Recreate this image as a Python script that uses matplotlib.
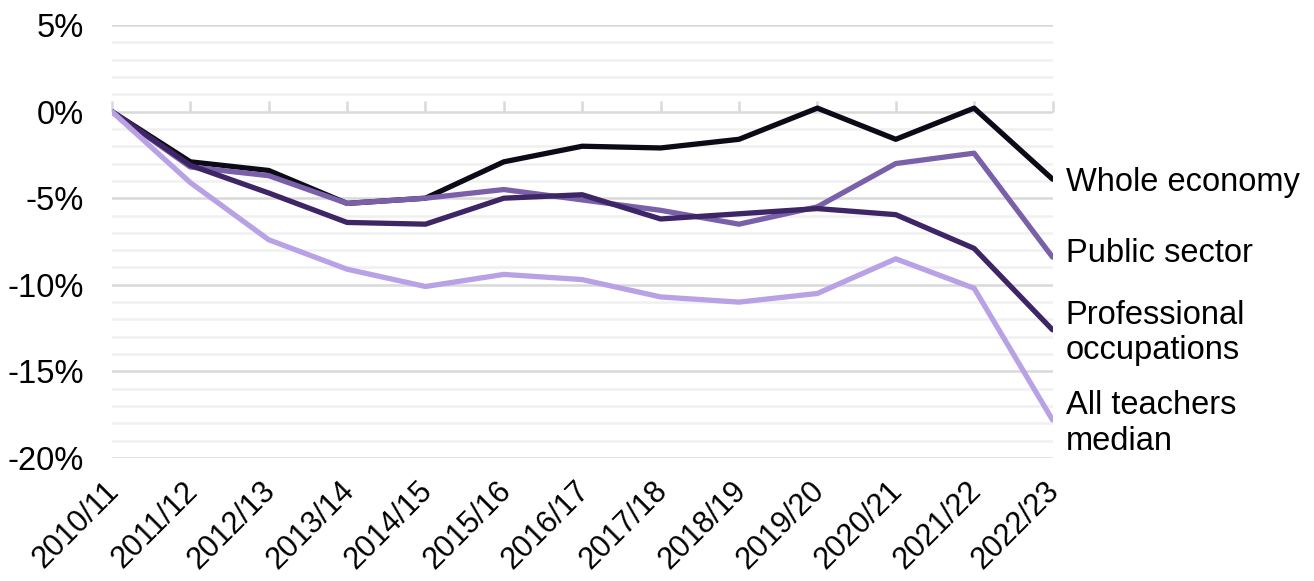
import matplotlib.pyplot as plt
import matplotlib.transforms as mtransforms
import numpy as np

plt.rcParams['font.family'] = ['Liberation Sans', 'DejaVu Sans']

years = ['2010/11', '2011/12', '2012/13', '2013/14', '2014/15', '2015/16', '2016/17',
         '2017/18', '2018/19', '2019/20', '2020/21', '2021/22', '2022/23']

# real terms change since 2010/11, %
whole_economy = [0, -2.9, -3.4, -5.3, -5.0, -2.9, -2.0, -2.1, -1.6, 0.2, -1.6, 0.2, -3.9]
public_sector = [0, -3.2, -3.7, -5.3, -5.0, -4.5, -5.1, -5.7, -6.5, -5.5, -3.0, -2.4, -8.4]
professional = [0, -3.1, -4.7, -6.4, -6.5, -5.0, -4.8, -6.2, -5.9, -5.6, -5.95, -7.9, -12.6]
teachers = [0, -4.1, -7.4, -9.1, -10.1, -9.4, -9.7, -10.7, -11.0, -10.5, -8.5, -10.2, -17.8]

series = [
    ('Whole economy', whole_economy, '#0c0a17'),
    ('Public sector', public_sector, '#7a60a8'),
    ('Professional\noccupations', professional, '#3d2566'),
    ('All teachers\nmedian', teachers, '#b8a1e4'),
]
label_y = [-4.1, -8.2, -12.8, -18.0]

fig = plt.figure(figsize=(13.14, 5.81), dpi=100)
ax = fig.add_axes([0.0852, 0.2117, 0.7158, 0.7453])

x = np.arange(len(years))

# gridlines: light every 1%, darker every 5%
for v in range(-20, 6):
    if v % 5 == 0:
        ax.axhline(v, color='#d9d9d9', lw=1.8, zorder=1)
    else:
        ax.axhline(v, color='#f0f0f0', lw=1.8, zorder=1)

for (name, vals, col), ly in zip(series, label_y):
    ax.plot(x, vals, color=col, lw=3.8, solid_capstyle='round', solid_joinstyle='round', zorder=3)
    ax.text(len(years) - 1 + 0.17, ly, name, fontsize=23.5, va='center', ha='left',
            linespacing=1.18, clip_on=False)

ax.set_xlim(0, len(years) - 1)
ax.set_ylim(-20, 5)
ax.set_yticks(range(-20, 6, 5))
ax.set_yticklabels([f'{v}%' for v in range(-20, 6, 5)])
ax.tick_params(axis='y', length=0, labelsize=23.5, pad=20)

ax.set_xticks(x)
ax.set_xticklabels(years, rotation=45, ha='right', rotation_mode='anchor')
ax.tick_params(axis='x', length=0, labelsize=22, pad=13)
shift = mtransforms.ScaledTranslation(-0.08, 0, fig.dpi_scale_trans)
for lab in ax.get_xticklabels():
    lab.set_transform(lab.get_transform() + shift)

for s in ax.spines.values():
    s.set_visible(False)

# category axis crossing at zero
sec = ax.secondary_xaxis(0.8)
sec.set_xticks(x)
sec.set_xticklabels([])
sec.tick_params(length=8, width=1.8, color='#d9d9d9', direction='out')
sec.spines['bottom'].set_visible(False)
sec.spines['top'].set_visible(False)

fig.savefig('out.png', dpi=100)
